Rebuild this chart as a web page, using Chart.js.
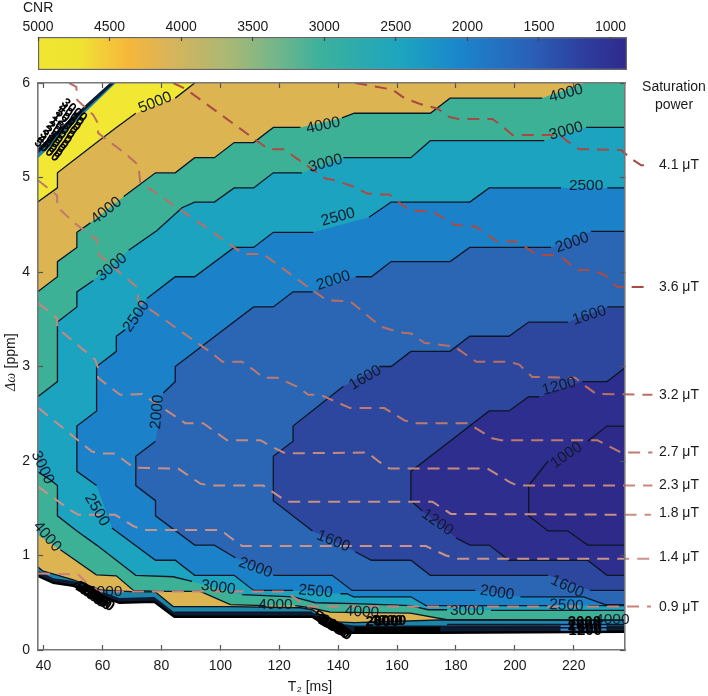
<!DOCTYPE html>
<html>
<head>
<meta charset="utf-8">
<script src="https://cdn.jsdelivr.net/npm/chart.js@4/dist/chart.umd.js"></script>
<style>
  body { margin: 0; background: #fff; }
  canvas { position: absolute; left: 0; top: 0; filter: blur(0.4px); }
</style>
</head>
<body>
<canvas id="contours" width="708" height="696"></canvas>
<canvas id="colorbar" width="708" height="72"></canvas>
<script>
const FONT = '"Liberation Sans", Arial, sans-serif';

// colorbar
const cbarTicks = [5000, 4500, 4000, 3500, 3000, 2500, 2000, 1500, 1000];
const cbarValues = [5000, 4710, 4570, 4360, 4080, 3660, 3310, 3030, 2470, 2050, 1560, 1210, 885];
const cbarColors = ['#f0e62f', '#efe331', '#f3cf38', '#f5b73a', '#d9b45a', '#a8b875', '#6fb68c', '#3cb19c',
                    '#1da5bf', '#1b85cc', '#2a60b8', '#2d40a0', '#2e2a8c'];

// contour lines. null = gap in the line (a label sits there)
const c5000T2 = [91.3, 84.7, null, 71.3, 64.7, 58, 51.3, 44.7, 44.7, 38, null, 38, 39.6, 44.3, 50.1, 59.3, 71.1, 77.9, 84, 103.4, 127.2, 131.2, 137.3, 145.5, 177, 238];
const c5000Ppm = [6, 5.84, null, 5.68, 5.53, 5.37, 5.21, 5.05, 4.89, 4.74, null, 0.88, 0.838, 0.796, 0.743, 0.637, 0.616, 0.616, 0.46, 0.46, 0.447, 0.426, 0.3, 0.29, 0.32, 0.315];

const c4000T2 = [223.6, null, 209.3, 178, 171.3, 145.5, 141.3, null, 127.2, 118, 111.3, 104.7, 98, 91.3, 84.7, 78, 67.2, null, 55.9, 51.3, 51.3, 44.7, 44.7, 38, null, 38, null, 45.7, 57.9, 64.7, 70.5, 78.3, 93.2, 103.4, 115.3, null, 125.4, 130.5, 137.3, 164.5, 177, 238];
const c4000Ppm = [6, null, 5.84, 5.84, 5.68, 5.68, 5.63, null, 5.53, 5.53, 5.37, 5.37, 5.21, 5.21, 5.05, 5.05, 4.8, null, 4.52, 4.42, 4.26, 4.11, 3.95, 3.79, null, 1.22, null, 1.06, 0.796, 0.785, 0.63, 0.62, 0.62, 0.48, 0.47, null, 0.47, 0.447, 0.4, 0.39, 0.32, 0.315];

const c3000T2 = [238, 224.2, null, 210, 171.3, 164.7, 141.8, null, 127.7, 118, 111.3, 104.7, 98, 91.3, 87, 78.5, 68.9, null, 56.9, 51.3, 51.3, 44.7, 44.7, 38, null, 38, 42.3, 44.7, 44.7, 51.3, 58, 64.7, 71.3, 84, 90.4, null, 107.4, 124.8, 132.3, 145.5, 164.5, 170.6, 177, null, 191.9, 238];
const c3000Ppm = [5.53, 5.53, null, 5.39, 5.39, 5.21, 5.21, null, 5.05, 5.05, 4.89, 4.89, 4.74, 4.74, 4.68, 4.44, 4.23, null, 3.91, 3.79, 3.63, 3.47, 2.84, 2.68, null, 1.885, 1.8, 1.74, 1.42, 1.26, 1.11, 0.95, 0.79, 0.775, 0.725, null, 0.585, 0.563, 0.5, 0.49, 0.47, 0.426, 0.426, null, 0.42, 0.42];

const c2500T2 = [238, 231.4, null, 215.7, 191.3, 184.7, 158, 150.5, null, 131.6, 118, 111.3, 104.7, 91.3, 84.7, 75.1, null, 67.7, 64.7, 64.7, 58, 58, 51.3, 51.3, 58, null, 63.2, 78, 84.7, 91.3, 104.7, 111.3, 124.7, null, 140.8, 143, 145.2, 164.7, 169.8, 211.4, null, 224.9, 238];
const c2500Ppm = [4.89, 4.89, null, 4.89, 4.89, 4.74, 4.74, 4.58, null, 4.42, 4.42, 4.26, 4.26, 3.95, 3.95, 3.72, null, 3.39, 3.32, 3.16, 3, 2.53, 2.37, 1.89, 1.74, null, 1.29, 0.95, 0.95, 0.79, 0.79, 0.63, 0.63, null, 0.595, 0.595, 0.563, 0.563, 0.47, 0.47, null, 0.47, 0.47];

const c2000T2 = [238, 225.9, null, 212.3, 184.7, 178, 158, 151.3, 146, null, 131.3, 124.7, 118, 111.3, 84.7, 84.7, 80.6, null, 78, 71.3, 71.3, 78, 78, 91.3, 98, 105.1, null, 118, 138, 144.7, 186.6, null, 201.9, 223.3, 230.7, 238];
const c2000Ppm = [4.43, 4.43, null, 4.26, 4.26, 4.11, 4.11, 3.95, 3.95, null, 3.79, 3.79, 3.63, 3.63, 3, 2.84, 2.72, null, 2.21, 2.05, 1.74, 1.58, 1.42, 1.11, 1.11, 0.976, null, 0.79, 0.79, 0.63, 0.63, null, 0.563, 0.563, 0.48, 0.48];

const c1600T2 = [238, 231.4, null, 218, 204.7, 198, 184.7, 178, 164.7, 158, 154, null, 141.8, 124.7, 124.7, 118, 118, 131.3, null, 145.8, 151.3, 164.7, 171.3, 211.3, null, 225.6, 238];
const c1600Ppm = [3.63, 3.63, null, 3.47, 3.47, 3.32, 3.32, 3.16, 3.16, 3, 3, null, 2.79, 2.37, 2.21, 2.05, 1.58, 1.26, null, 1.04, 0.95, 0.95, 0.79, 0.79, null, 0.63, 0.63];

const c1200T2 = [238, 231.3, 222.9, null, 208.3, 204.7, 198, 191.3, 164.7, 164.7, 168.6, null, 180, 184.7, 191.3, 198, 224.7, 231.3, 238];
const c1200Ppm = [3, 2.84, 2.84, null, 2.68, 2.68, 2.53, 2.53, 1.89, 1.58, 1.47, null, 1.187, 1.11, 1.11, 0.95, 0.95, 0.79, 0.79];

const c1000T2 = [238, 231.3, 224.7, null, 211.3, 204.7, 204.7, 211.3, 218, 224.7, 238];
const c1000Ppm = [2.37, 2.37, 2.21, null, 2, 1.74, 1.42, 1.26, 1.26, 1.11, 1.11];

const levelColors = ['#dcb552', '#3db195', '#1ca3bf', '#1b82c9', '#2a66b4', '#2d479f', '#2e2e8f', '#2e2a8a'];

// edges of the computed area, where all the levels pile up
const domainT2 = [38, 62.5, 238, 238, 174.7, 142.4, 137.3, 131.2, 84.4, 77.6, 65.7, 50.1, 43.3, 38];
const domainPpm = [5.31, 6, 6, 0.193, 0.183, 0.183, 0.236, 0.352, 0.352, 0.511, 0.5, 0.68, 0.711, 0.785];
const bandT2 = [38, 64, 238, 238, 177, 145.5, 137.3, 131.2, 84.4, 77.6, 65.7, 50.1, 43.3, 38];
const bandPpm = [5.25, 6, 6, 0.26, 0.26, 0.26, 0.29, 0.4, 0.4, 0.56, 0.55, 0.73, 0.76, 0.84];
const yellowT2 = [38, 64.5, 100, 38];
const yellowPpm = [5.2, 6, 6, 4.7];
const smudgeT2 = [215.5, 231.1, 231.1, 215.5];
const smudgePpm = [0.29, 0.29, 0.2, 0.2];
const stripeT2 = [177, 238, null, 177, 238, null, 84.4, 131.2];
const stripePpm = [0.27, 0.27, null, 0.235, 0.235, null, 0.4, 0.4];
const blackBarT2 = [145.5, 174.7];
const blackBarPpm = [0.215, 0.215];

// saturation power curves
const satLabels = ['4.1 μT', '3.6 μT', '3.2 μT', '2.7 μT', '2.3 μT', '1.8 μT', '1.4 μT', '0.9 μT'];
const satLabelPpm = [5.13, 3.84, 2.7, 2.09, 1.74, 1.45, 0.98, 0.45];
const satColors = ['#a84843', '#ad4a42', '#bb6e63', '#bf7a6e', '#c5897d', '#c98f85', '#c9938a', '#c9817a'];

// the last point of each curve steps back a little: Chart.js then treats the curve as
// unsorted and keeps the part that runs past the axis maximum
const sat41T2 = [145.8, 158.4, 162.5, 167.6, 173.7, 177.8, 180.8, 192.4, 195, 199.2, 215.4, 217.5, 221.9, 236.1, 239.5, 242.9, 246.4, 246.3];
const sat41Ppm = [6, 5.93, 5.84, 5.78, 5.73, 5.64, 5.62, 5.62, 5.56, 5.45, 5.45, 5.39, 5.3, 5.29, 5.2, 5.13, 5.13, 5.13];
const sat36T2 = [84, 88.1, 116.3, 121.4, 135.7, 139, 145.5, 149.9, 152.9, 157.4, 164.2, 172, 179.5, 186.8, 193.6, 200.9, 207.6, 212.3, 216.1, 221.2, 226.3, 230.4, 234.8, 245, 244.9];
const sat36Ppm = [6, 5.94, 5.3, 5.3, 4.99, 4.97, 4.9, 4.83, 4.82, 4.82, 4.65, 4.64, 4.5, 4.48, 4.33, 4.32, 4.18, 4.18, 4.15, 4.02, 4.02, 3.97, 3.84, 3.84, 3.84];
const sat32T2 = [48.7, 51.1, 51.4, 56.9, 58.5, 58.5, 68.3, 72.2, 72.8, 98.9, 107.8, 114.6, 131.1, 136.2, 144.1, 154.6, 161.1, 164.8, 169.3, 179.5, 184.6, 186.9, 198.1, 201.5, 205.9, 220.5, 223.6, 227.6, 246.7, 246.6];
const sat32Ppm = [6, 5.96, 5.82, 5.66, 5.57, 5.47, 5.24, 5.13, 4.95, 4.39, 4.19, 4.19, 3.81, 3.7, 3.69, 3.42, 3.36, 3.35, 3.25, 3.21, 3.1, 3.05, 3.05, 3.02, 2.89, 2.88, 2.8, 2.71, 2.7, 2.7];
const sat27T2 = [38.1, 44.6, 44.6, 50.8, 58.1, 58.9, 71.7, 72.2, 97.2, 100.7, 107.4, 111.9, 114.6, 119.4, 126.5, 129.9, 134, 144.1, 155.7, 162.5, 165.9, 183.9, 192.3, 195.3, 228, 236.1, 246.7, 246.6];
const sat27Ppm = [4.97, 4.81, 4.69, 4.51, 4.34, 4.18, 3.84, 3.69, 3.14, 3.05, 3.05, 2.95, 2.88, 2.88, 2.78, 2.7, 2.7, 2.56, 2.56, 2.43, 2.4, 2.4, 2.24, 2.22, 2.22, 2.09, 2.09, 2.09];
const sat23T2 = [38.3, 44.6, 44.6, 57.6, 58.5, 58.5, 66, 73.4, 88.1, 94.2, 102.3, 110.2, 113.6, 117.6, 122.1, 149.9, 154, 157.4, 190.7, 198.1, 200.9, 246.7, 246.6];
const sat23Ppm = [3.67, 3.51, 3.41, 3.07, 2.98, 2.88, 2.7, 2.71, 2.4, 2.4, 2.22, 2.22, 2.22, 2.15, 2.08, 2.09, 1.99, 1.92, 1.92, 1.78, 1.74, 1.74, 1.74];
const sat18T2 = [38.3, 56.4, 59.3, 64.3, 70.5, 85.7, 93.2, 96.6, 114.6, 122.6, 172, 178.3, 246.2, 246.1];
const sat18Ppm = [2.56, 2.1, 2.08, 2.08, 1.93, 1.92, 1.76, 1.74, 1.74, 1.57, 1.57, 1.44, 1.43, 1.43];
const sat14T2 = [38.1, 49.1, 51.8, 64.3, 70.5, 73.9, 100, 107.4, 169.8, 176.6, 180.5, 246.2, 246.1];
const sat14Ppm = [1.73, 1.48, 1.43, 1.43, 1.31, 1.27, 1.27, 1.1, 1.1, 1, 0.965, 0.965, 0.965];
const sat09T2 = [38.1, 51.7, 55.9, 59.3, 122.1, 129.4, 246.2, 246.1];
const sat09Ppm = [0.81, 0.8, 0.67, 0.62, 0.62, 0.46, 0.46, 0.46];

// labels on the contour lines
const labelText = ['5000', '4000', '4000', '4000', '3000', '3000', '3000', '2500', '2500', '2500', '2000', '2000', '2000', '1600', '1600', '1200', '1000', '1200', '1600', '2000', '2500', '4000', '3000', '3000', '2500', '4000', '4000', '3000', '2000', '1600', '2500', '4000', '4000'];
const labelT2 = [77.9, 134.9, 217.4, 61.3, 135.7, 217.4, 63.2, 140, 224.2, 71.5, 138.4, 219.5, 78.6, 149.2, 225.3, 215, 217.5, 173.7, 138.4, 111.9, 58.1, 41.2, 39.6, 99.3, 132.3, 118.7, 148.1, 183.8, 194, 217.8, 217.5, 233.1, 60.9];
const labelPpm = [5.79, 5.55, 5.89, 4.65, 5.15, 5.49, 4.05, 4.58, 4.91, 3.53, 3.91, 4.31, 2.52, 2.88, 3.54, 2.79, 2.06, 1.35, 1.15, 0.87, 1.48, 1.2, 1.93, 0.66, 0.62, 0.48, 0.4, 0.42, 0.606, 0.67, 0.47, 0.32, 0.62];
const labelAngle = [-22, -12, -15, -38, -15, -15, -40, -15, 0, -55, -18, -20, -85, -30, -18, -15, -35, 35, 22, 20, 60, 50, 65, 8, 5, 0, 3, 0, 8, 25, 3, 0, 0];

// labels that fall on top of each other where the lines bunch up
const pileText = ['4000', '3000', '2500', '2000', '1600', '5000', '4000', '3000', '2000', '1600', '4000', '3000', '2000', '3000', '2000', '1600', '1200'];
const pileT2 = [54.8, 55.9, 56.9, 57.9, 58.9, 136.7, 137.4, 138, 138.7, 139.4, 156.3, 157.5, 155, 223.6, 223.6, 223.9, 223.9];
const pilePpm = [0.606, 0.585, 0.574, 0.553, 0.542, 0.29, 0.267, 0.257, 0.236, 0.225, 0.31, 0.31, 0.3, 0.3, 0.26, 0.23, 0.2];
const pileAngle = [35, 35, 35, 35, 35, 30, 30, 30, 30, 30, 0, 0, 0, 0, 0, 0, 0];

// same thing in the top left corner, there the lines are so short the labels coil up
const coilText = ['5000', '4000', '3000', '2500', '2000', '1600', '1200', '5000', '4000', '3000'];
const coilT2 = [41.1, 42.1, 43.1, 44.1, 45.2, 46.2, 47.2, 48.3, 49.3, 50.4];
const coilPpm = [5.29, 5.33, 5.38, 5.42, 5.47, 5.52, 5.57, 5.61, 5.66, 5.71];

function toPoints(t2s, ppms) {
    return t2s.map((t, i) => ({x: t, y: ppms[i]}));
}

// closed shape of one level: the line without its gaps, plus the top right corner if it starts on the top edge
function toShape(t2s, ppms) {
    let pts = toPoints(t2s, ppms).filter(p => p.x !== null);
    if (pts[0].y === 6) pts.push({x: 238, y: 6});
    return pts;
}

function fillSet(points, color) {
    return {data: points, showLine: true, fill: 'shape', backgroundColor: color, borderWidth: 0, pointRadius: 0};
}

function lineSet(points, color, width) {
    return {data: points, showLine: true, fill: false, borderColor: color, borderWidth: width, pointRadius: 0};
}

const levelLines = [[c5000T2, c5000Ppm], [c4000T2, c4000Ppm], [c3000T2, c3000Ppm], [c2500T2, c2500Ppm],
                    [c2000T2, c2000Ppm], [c1600T2, c1600Ppm], [c1200T2, c1200Ppm], [c1000T2, c1000Ppm]];
const satCurves = [[sat41T2, sat41Ppm], [sat36T2, sat36Ppm], [sat32T2, sat32Ppm], [sat27T2, sat27Ppm],
                   [sat23T2, sat23Ppm], [sat18T2, sat18Ppm], [sat14T2, sat14Ppm], [sat09T2, sat09Ppm]];

const LINE_COLOR = '#0e1626';

// painted back to front, Chart.js draws the first dataset last
let fills = [
    fillSet(toShape(domainT2, domainPpm), '#0d1c35'),
    fillSet(toShape(bandT2, bandPpm), '#1b86a8'),
    fillSet(toPoints(yellowT2, yellowPpm), '#f2e733')
];
levelLines.forEach((l, i) => fills.push(fillSet(toShape(l[0], l[1]), levelColors[i])));
fills.push(fillSet(toPoints(smudgeT2, smudgePpm), '#2e8bd8'));

let lines = levelLines.map(l => lineSet(toPoints(l[0], l[1]), LINE_COLOR, 1.3));
lines.push(lineSet(toPoints(stripeT2, stripePpm), LINE_COLOR, 1.5));
lines.push(lineSet(toPoints(domainT2.slice(2), domainPpm.slice(2)), '#000', 2.5));
lines.push(lineSet(toPoints(blackBarT2, blackBarPpm), '#000', 6));

let sats = satCurves.map((c, i) => {
    let set = lineSet(toPoints(c[0], c[1]), satColors[i], 2);
    set.borderDash = [12, 8];
    set.clip = false;
    return set;
});

function drawLabel(ctx, text, x, y, angle) {
    ctx.save();
    ctx.translate(x, y);
    ctx.rotate(angle * Math.PI / 180);
    ctx.fillText(text, 0, 0);
    ctx.restore();
}

const textPlugin = {
    id: 'chartText',
    afterDraw(chart) {
        const ctx = chart.ctx;
        const sx = chart.scales.x;
        const sy = chart.scales.y;
        ctx.save();
        ctx.textAlign = 'center';
        ctx.textBaseline = 'middle';
        ctx.fillStyle = '#101a2c';
        ctx.font = '15.5px ' + FONT;
        labelText.forEach((t, i) => drawLabel(ctx, t, sx.getPixelForValue(labelT2[i]), sy.getPixelForValue(labelPpm[i]), labelAngle[i]));
        ctx.fillStyle = '#000';
        ctx.font = 'bold 15px ' + FONT;
        pileText.forEach((t, i) => drawLabel(ctx, t, sx.getPixelForValue(pileT2[i]), sy.getPixelForValue(pilePpm[i]), pileAngle[i]));
        ctx.font = 'bold 13px ' + FONT;
        coilText.forEach((t, i) => drawLabel(ctx, t, sx.getPixelForValue(coilT2[i]), sy.getPixelForValue(coilPpm[i]), 40));

        // text outside the plot
        ctx.fillStyle = '#1a1a1a';
        ctx.font = '14px ' + FONT;
        ctx.fillText('Saturation', 674, 87);
        ctx.fillText('power', 674, 105);
        ctx.fillText('T₂ [ms]', 310, 687);
        ctx.textAlign = 'left';
        satLabels.forEach((t, i) => ctx.fillText(t, 659, sy.getPixelForValue(satLabelPpm[i])));

        // y title, only the symbol is italic
        ctx.translate(11, 391);
        ctx.rotate(-Math.PI / 2);
        ctx.font = 'italic 14px "Liberation Serif", serif';
        ctx.fillText('Δω', 0, 0);
        const w = ctx.measureText('Δω ').width;
        ctx.font = '14px ' + FONT;
        ctx.fillText('[ppm]', w + 1, 0);
        ctx.restore();
    }
};

function fixSize(prop, value) {
    return scale => { scale[prop] = value; };
}

const AXIS_GREY = '#777';
const insideTicks = {drawOnChartArea: false, tickLength: -5, tickWidth: 1.2, tickColor: '#555', z: 1};
const axisBorder = {color: AXIS_GREY, width: 1.6, z: 1};

new Chart('contours', {
    type: 'scatter',
    data: {datasets: sats.concat(lines, fills.reverse())},
    options: {
        responsive: false,
        animation: false,
        layout: {padding: {top: 83, right: 83}},
        plugins: {legend: {display: false}, tooltip: {enabled: false}},
        scales: {
            x: {
                min: 38.1, max: 237.4,
                grid: insideTicks, border: axisBorder, afterFit: fixSize('height', 46),
                ticks: {stepSize: 20, includeBounds: false, padding: 13, maxRotation: 0, color: '#1a1a1a', font: {family: FONT, size: 14}}
            },
            y: {
                min: 0, max: 6,
                grid: insideTicks, border: axisBorder, afterFit: fixSize('width', 38),
                ticks: {stepSize: 1, padding: 13, color: '#1a1a1a', font: {family: FONT, size: 14}}
            },
            xTop: {
                position: 'top', min: 38.1, max: 237.4,
                grid: insideTicks, border: axisBorder, afterFit: fixSize('height', 0),
                ticks: {stepSize: 20, includeBounds: false, display: false}
            },
            yRight: {
                position: 'right', min: 0, max: 6,
                grid: insideTicks, border: axisBorder, afterFit: fixSize('width', 0),
                ticks: {stepSize: 1, display: false}
            }
        }
    },
    plugins: [textPlugin]
});

function cbarGradient(context) {
    const chart = context.chart;
    if (!chart.chartArea) return cbarColors[0];
    const scale = chart.scales.x;
    const g = chart.ctx.createLinearGradient(scale.left, 0, scale.right, 0);
    cbarValues.forEach((v, i) => {
        const stop = (scale.getPixelForValue(v) - scale.left) / (scale.right - scale.left);
        g.addColorStop(Math.min(Math.max(stop, 0), 1), cbarColors[i]);
    });
    return g;
}

new Chart('colorbar', {
    type: 'bar',
    data: {
        labels: ['CNR'],
        datasets: [{
            data: [[cbarValues[0], cbarValues[cbarValues.length - 1]]],
            backgroundColor: cbarGradient,
            borderColor: '#666', borderWidth: 1.5, borderSkipped: false,
            barPercentage: 1, categoryPercentage: 1
        }]
    },
    options: {
        indexAxis: 'y',
        responsive: false,
        animation: false,
        layout: {padding: {left: 38, right: 81, bottom: 2}},
        plugins: {legend: {display: false}, tooltip: {enabled: false}},
        scales: {
            x: {
                position: 'top', reverse: true, min: 885, max: 5000,
                afterFit: fixSize('height', 37),
                afterBuildTicks: scale => { scale.ticks = cbarTicks.map(v => ({value: v})); },
                grid: {drawOnChartArea: false, tickLength: -4, tickWidth: 1.2, tickColor: '#444', z: 1},
                border: {display: false},
                ticks: {autoSkip: false, padding: 5, maxRotation: 0, color: '#1a1a1a', font: {family: FONT, size: 14}, callback: v => String(v)}
            },
            y: {display: false}
        }
    },
    plugins: [{
        id: 'cbarTitle',
        afterDraw(chart) {
            const ctx = chart.ctx;
            ctx.save();
            ctx.fillStyle = '#1a1a1a';
            ctx.font = '14px ' + FONT;
            ctx.textBaseline = 'middle';
            ctx.fillText('CNR', 23, 8);
            ctx.restore();
        }
    }]
});
</script>
</body>
</html>
